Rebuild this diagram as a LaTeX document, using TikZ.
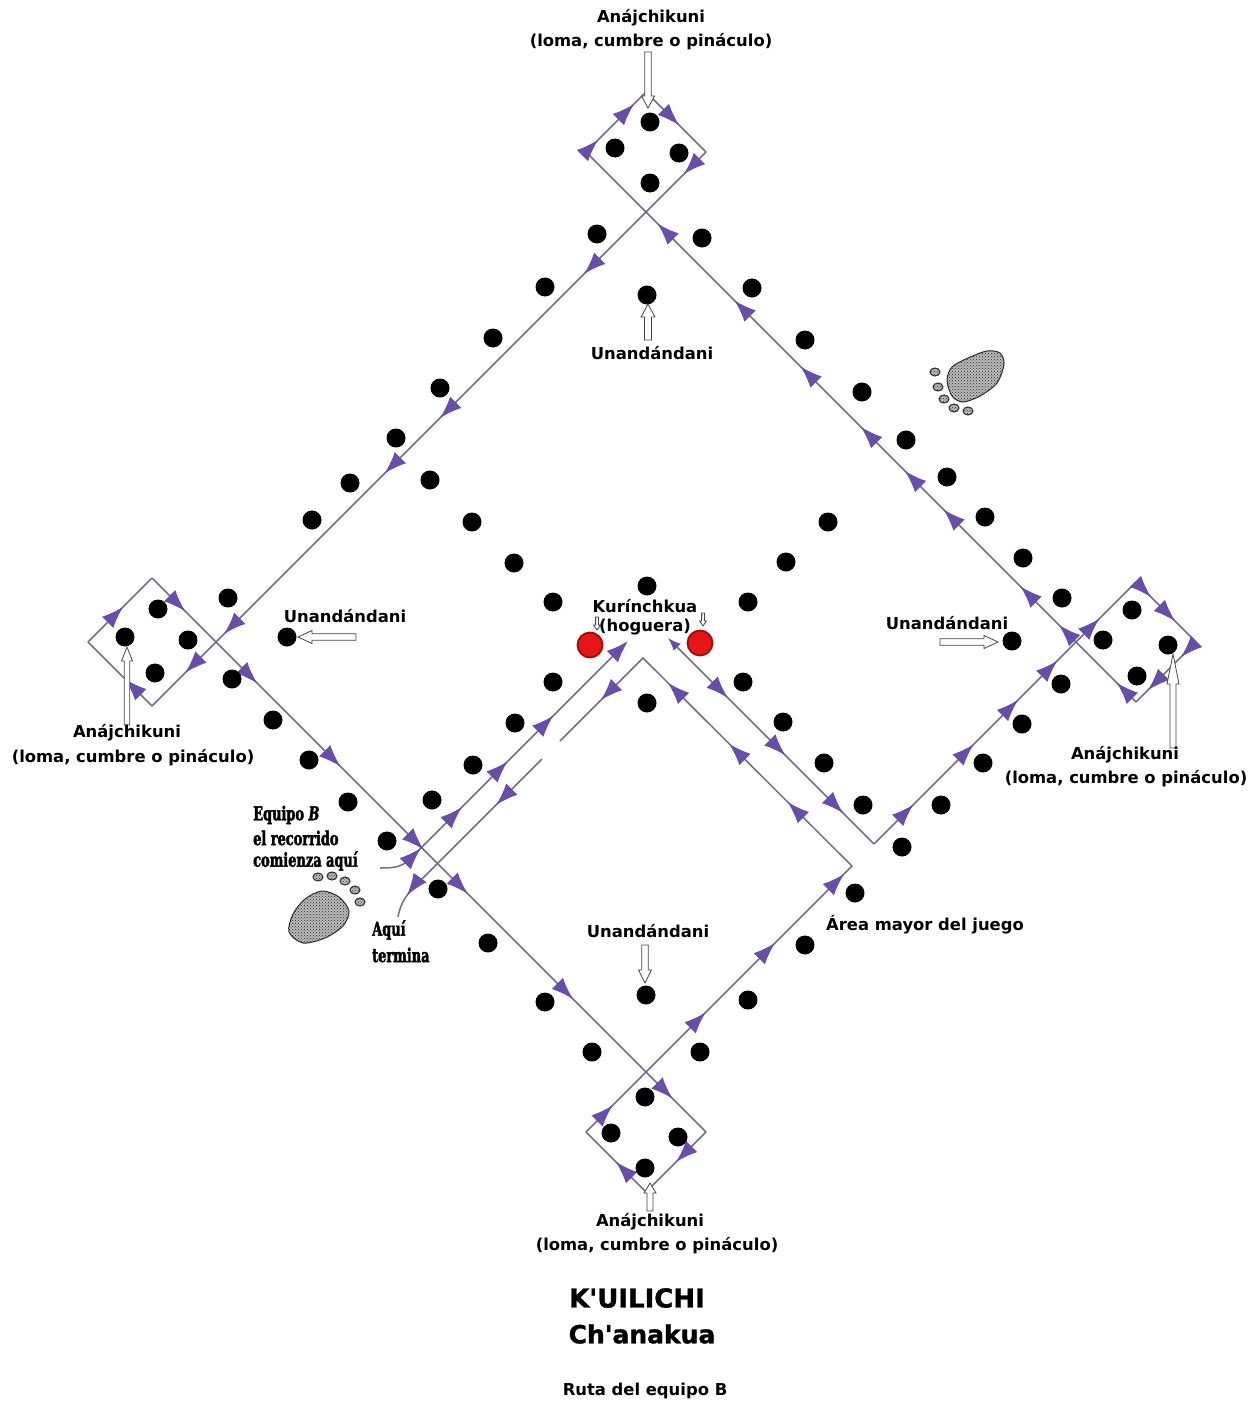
\documentclass[tikz,border=0pt]{standalone}
\usepackage{fontspec}
\setmainfont{DejaVu Sans}
\newfontfamily\labelfont{DejaVu Sans}
\newfontfamily\titlefont[FakeBold=1.2]{DejaVu Sans Bold}
\newfontfamily\condserif[FakeStretch=0.68,FakeBold=2]{DejaVu Serif Bold}
\newfontfamily\condserifit[FakeStretch=0.68,FakeBold=2]{DejaVu Serif Bold Italic}
\usetikzlibrary{arrows.meta,decorations.markings,patterns}
\definecolor{routegrey}{RGB}{112,112,140}
\definecolor{purp}{RGB}{104,78,168}
\definecolor{fire}{RGB}{228,22,22}
\definecolor{firerim}{RGB}{160,10,10}

% hollow pointer: tail x, tail y, angle, length, shaft half width, head half width, head length
\newcommand\hollowarrow[7]{%
  \draw[hollow,shift={(#1,#2)},rotate=#3]
    (0,-#5) -- ({#4-#7},-#5) -- ({#4-#7},-#6) -- (#4,0) -- ({#4-#7},#6) -- ({#4-#7},#5) -- (0,#5) -- cycle;}

\begin{document}
\begin{tikzpicture}[x=1pt,y=-1pt,
  route/.style={draw=routegrey,line width=1.5pt},
  ah/.style={postaction={decorate,decoration={markings,
      mark=at position #1 with {\arrow{Latex[length=22pt,width=16pt,color=purp]}}}}},
  blackdot/.style={fill=black},
  hollow/.style={draw=gray!55!black,fill=white,line width=0.8pt},
  lbl/.style={font=\labelfont\bfseries\fontsize{16.4}{18}\selectfont,inner sep=0pt,align=center},
  condlbl/.style={font=\condserif\fontsize{19}{21}\selectfont,inner sep=0pt,anchor=west},
  foot/.style={fill=gray!55,draw=gray!35!black,line width=1pt,
      postaction={pattern=crosshatch dots,pattern color=gray!35!black}},
  fireball/.style={fill=fire,draw=firerim,line width=1.8pt}]

\useasboundingbox (0,0) rectangle (1260,1405);
\fill[white] (0,0) rectangle (1260,1405);

% ---- corners of the big diamond and the loops at its corners
\coordinate (T) at (646,212);
\coordinate (L) at (216,642);
\coordinate (B) at (646,1072);
\coordinate (R) at (1076,642);
\coordinate (Tl) at (586,152);  \coordinate (Tt) at (646,92);   \coordinate (Tr) at (706,152);
\coordinate (Lt) at (152,578);  \coordinate (Ll) at (88,642);   \coordinate (Lb) at (152,706);
\coordinate (Br) at (706,1132); \coordinate (Bb) at (646,1192); \coordinate (Bl) at (586,1132);
\coordinate (Rt) at (1136,582); \coordinate (Rr) at (1196,642); \coordinate (Rb) at (1136,702);
% ---- inner part of the route
\coordinate (Dend) at (852,866);
\coordinate (apex) at (643,658);
\coordinate (Fa) at (560,741);   \coordinate (Fb) at (542,759);
\coordinate (Fc) at (418,883);   \coordinate (finish) at (398,917);
\coordinate (start) at (380,868); \coordinate (Sa) at (410,859); \coordinate (Send) at (628,641);
\coordinate (Gstart) at (668,638); \coordinate (Gcorner) at (874,844);

% ---- the route of team B
\draw[route,ah=0.14,ah=0.31,ah=0.50,ah=0.69,-{Latex[length=22pt,width=16pt,color=purp]}]
  (start) to[out=0,in=225] (Sa) -- (Send);
\draw[route,{Latex[length=13pt,width=10pt,color=purp]}-,ah=0.29,ah=0.57,ah=0.85] (Gstart) -- (Gcorner);
\draw[route,ah=0.15,ah=0.38,ah=0.55,ah=0.70,ah=0.86] (Gcorner) -- (Rt);
\draw[route,ah=0.25,ah=0.65] (Rt) -- (Rr);
\draw[route,ah=0.25,ah=0.8] (Rr) -- (Rb);
\draw[route,ah=0.035,ah=0.14,ah=0.21,ah=0.35,ah=0.42,ah=0.50,ah=0.61,ah=0.73,ah=0.87] (Rb) -- (Tl);
\draw[route,ah=0.2,ah=0.8] (Tl) -- (Tt);
\draw[route,ah=0.55] (Tt) -- (Tr);
\draw[route,ah=0.04,ah=0.22,ah=0.48,ah=0.58,ah=0.87,ah=0.94] (Tr) -- (Lb);
\draw[route,ah=0.42] (Lb) -- (Ll);
\draw[route,ah=0.55] (Ll) -- (Lt);
\draw[route,ah=0.06,ah=0.19,ah=0.34,ah=0.49,ah=0.57,ah=0.76,ah=0.94] (Lt) -- (Br);
\draw[route,ah=0.5] (Br) -- (Bb);
\draw[route,ah=0.5] (Bb) -- (Bl);
\draw[route,ah=0.10,ah=0.45,ah=0.71,ah=0.97] (Bl) -- (Dend);
\draw[route,ah=0.22,ah=0.42,ah=0.63,ah=0.86] (Dend) -- (apex) -- (Fa);
\draw[route,ah=0.30,ah=0.89] (Fb) -- (Fc) to[out=225,in=80] (finish);

% ---- markers (black dots)
\foreach \x/\y in {
  650/122,615/148,679/153,650/183,
  158/609,125/637,188/640,155/673,
  1132/610,1103/640,1168/645,1137/676,
  645/1097,611/1133,678/1137,645/1168,
  597/234,545/287,493/338,440/388,396/438,350/483,312/520,228/598,
  702/238,752/288,805/340,862/392,906/440,947/477,985/517,1023/558,1062/598,
  232/679,273/720,309/760,348/802,387/841,438/889,488/943,545/1002,592/1052,
  700/1052,748/1000,805/945,855/893,902/847,941/805,983/763,1022/724,1061/684,
  647/295,430/480,472/522,514/563,553/602,828/522,786/562,748/602,647/586,
  287/637,1012/641,432/800,473/765,515/723,553/682,647/703,
  743/682,783/722,824/763,863/805,646/995}
  \fill[blackdot] (\x,\y) circle (9.5pt);

% ---- the two fires
\draw[fireball] (590,645) circle (12.5pt);
\draw[fireball] (700,643) circle (12.5pt);
\hollowarrow{597}{617}{-90}{13}{1.4}{3.4}{5}
\hollowarrow{703}{613}{-90}{13}{1.4}{3.4}{5}

% ---- pointers
\hollowarrow{648}{52}{-90}{56}{3.3}{6.5}{12}
\hollowarrow{127}{725}{90}{78}{2.8}{5.5}{14}
\hollowarrow{1173}{748}{90}{94}{3}{6}{30}
\hollowarrow{650}{1211}{90}{28}{3}{6}{10}
\hollowarrow{648}{340}{90}{36}{3.5}{7}{13}
\hollowarrow{356}{637}{180}{58}{3.3}{6.5}{14}
\hollowarrow{940}{642}{0}{58}{3.3}{6.5}{14}
\hollowarrow{645}{945}{-90}{38}{3.3}{6.5}{13}

% ---- labels
\node[lbl] (topname)  at (651,18)   {Anájchikuni};
\node[lbl] (topgloss) at (651,42)   {(loma, cumbre o pináculo)};
\node[lbl] (lname)    at (127,733)  {Anájchikuni};
\node[lbl] (lgloss)   at (133,758)  {(loma, cumbre o pináculo)};
\node[lbl] (rname)    at (1125,755) {Anájchikuni};
\node[lbl] (rgloss)   at (1126,779) {(loma, cumbre o pináculo)};
\node[lbl] (bname)    at (650,1222) {Anájchikuni};
\node[lbl] (bgloss)   at (657,1246) {(loma, cumbre o pináculo)};
\node[lbl] (utop)     at (652,353)  {Unandándani};
\node[lbl] (uleft)    at (345,616)  {Unandándani};
\node[lbl] (uright)   at (947,623)  {Unandándani};
\node[lbl] (ubottom)  at (648,931)  {Unandándani};
\node[lbl] (fire1)    at (645,606)  {Kurínchkua};
\node[lbl] (fire2)    at (645,627)  {(hoguera)};
\node[lbl] (area)     at (925,925)  {Área mayor del juego};
\node[condlbl] (eq1)  at (253,815)  {Equipo {\condserifit B}};
\node[condlbl] (eq2)  at (253,838)  {el recorrido};
\node[condlbl] (eq3)  at (253,861)  {comienza aquí};
\node[condlbl] (end1) at (372,930)  {Aquí};
\node[condlbl] (end2) at (372,955)  {termina};
\node[lbl,font=\titlefont\fontsize{26}{28}\selectfont] (title1) at (637,1298) {K'UILICHI};
\node[lbl,font=\titlefont\fontsize{25}{27}\selectfont] (title2) at (642,1334) {Ch'anakua};
\node[lbl] (subtitle) at (645,1391) {Ruta del equipo B};

% ---- footprints
\draw[foot] plot[smooth cycle] coordinates {(947,380) (952,367) (968,358) (987,351) (1000,353) (1004,364) (997,383) (980,396) (963,402) (952,396)};
\foreach \x/\y in {935/372,938/387,944/399,954/408,968/411}
  \draw[foot] (\x,\y) ellipse (5pt and 4pt);
\draw[foot] plot[smooth cycle] coordinates {(289,932) (293,914) (305,899) (322,891) (339,897) (349,911) (343,926) (325,938) (303,943)};
\foreach \x/\y in {318/877,332/876,345/881,355/890,360/902}
  \draw[foot] (\x,\y) ellipse (5pt and 4pt);
\end{tikzpicture}
\end{document}
